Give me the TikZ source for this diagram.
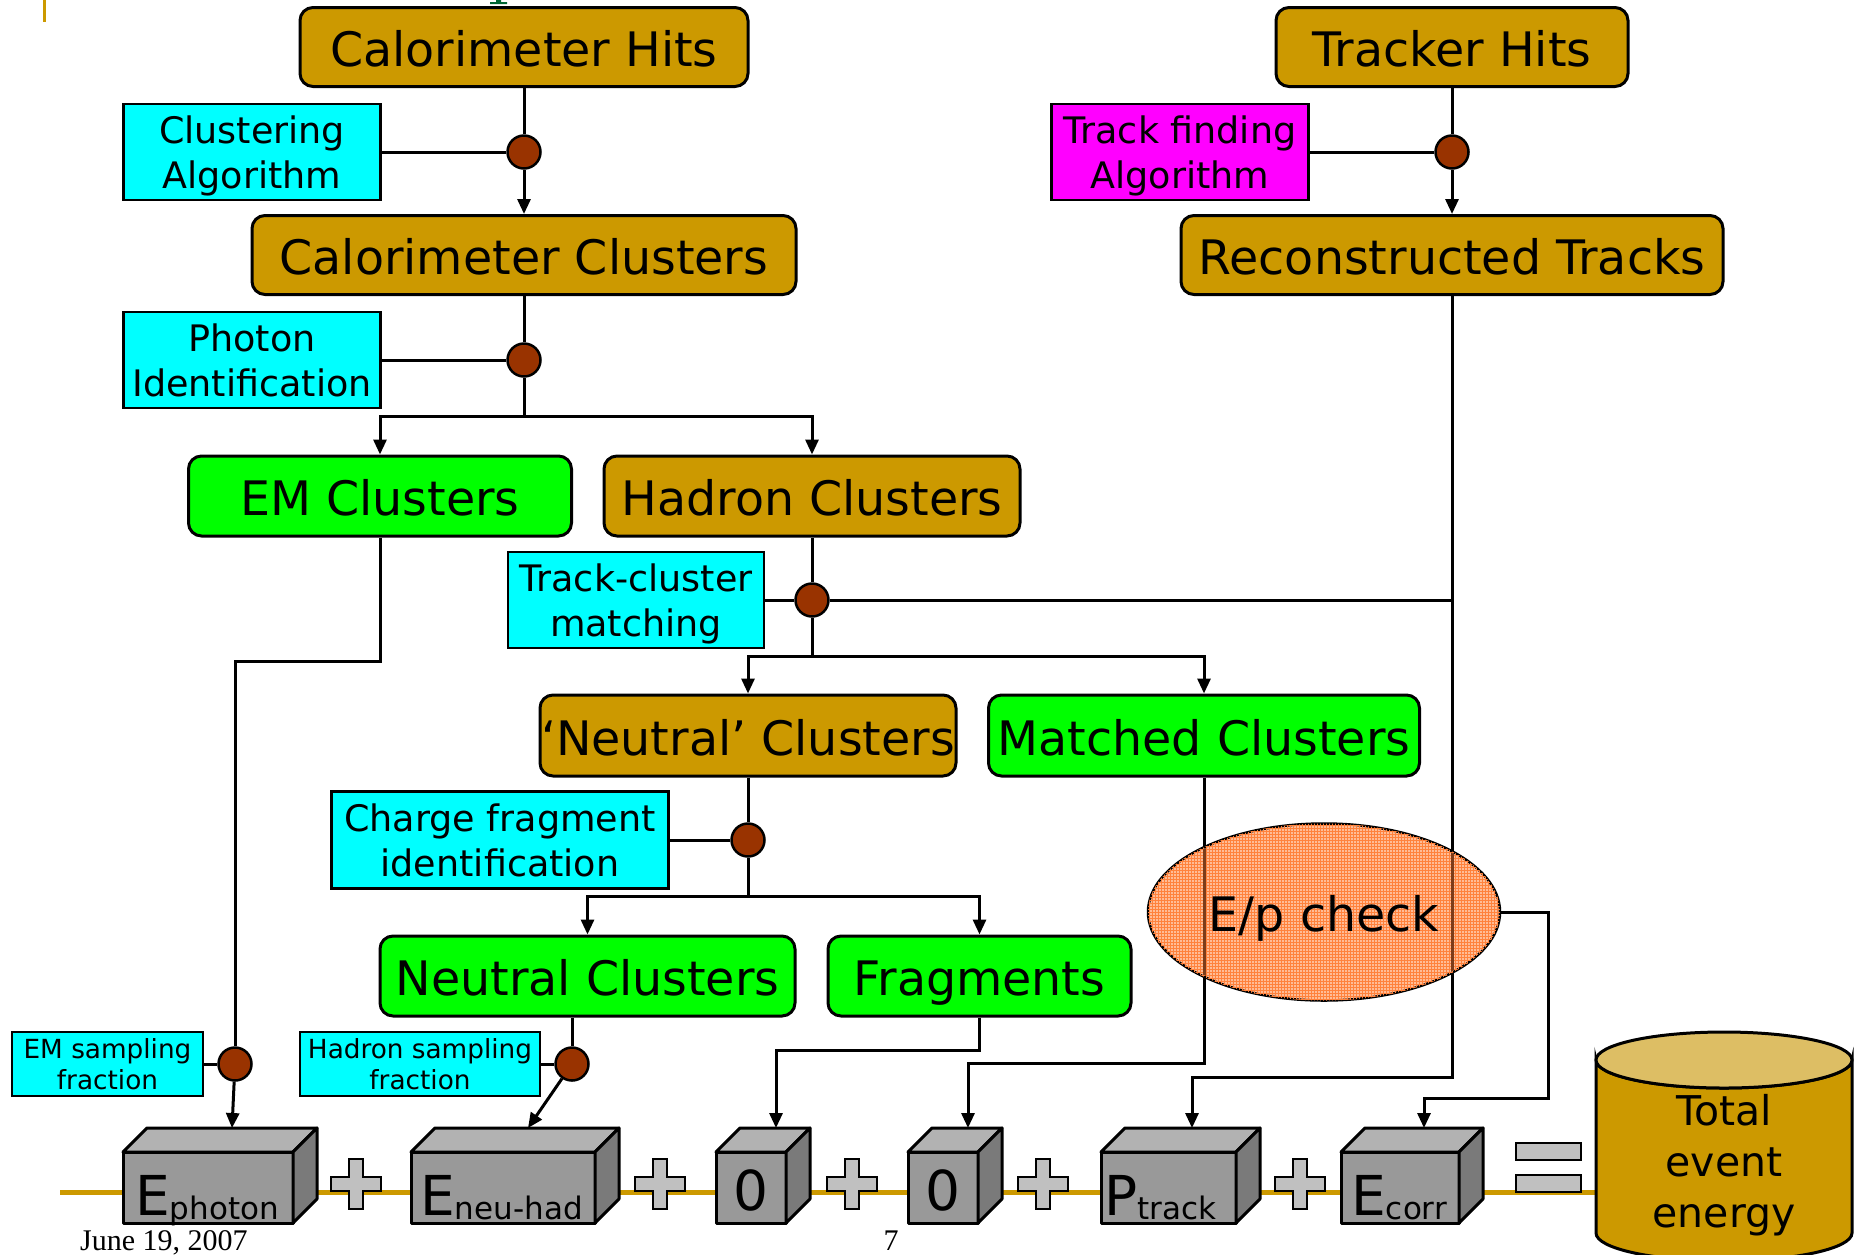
\documentclass[tikz,border=0pt]{standalone}
\usepackage{fontspec}
\setmainfont{DejaVu Sans}
\newfontfamily\footserif{Liberation Serif}
\usetikzlibrary{arrows.meta,shapes.geometric,calc,patterns}
\definecolor{gold}{RGB}{204,153,0}
\definecolor{lightgold}{RGB}{221,190,100}
\definecolor{cyanbox}{RGB}{0,255,255}
\definecolor{magbox}{RGB}{255,0,255}
\definecolor{greenbox}{RGB}{0,255,0}
\definecolor{dotbrown}{RGB}{153,51,0}
\definecolor{cubefront}{RGB}{153,153,153}
\definecolor{cubetop}{RGB}{178,178,178}
\definecolor{cubeside}{RGB}{122,122,122}
\definecolor{plusgray}{RGB}{192,192,192}
\definecolor{epfill}{RGB}{255,188,150}
\definecolor{epgrid}{RGB}{255,130,60}
\definecolor{epline}{RGB}{125,60,25}
\definecolor{titlegreen}{RGB}{0,102,51}
\newcommand\myBig{\fontsize{55}{55}\selectfont}
\newcommand\mySub{\fontsize{31}{31}\selectfont}
\newcommand\mycube[2]{%
  \draw[cubeline,fill=cubefront] (#1,1152) rectangle (#2,1223);
  \draw[cubeline,fill=cubetop] (#1,1152) -- (#1+24,1128) -- (#2+24,1128) -- (#2,1152) -- cycle;
  \draw[cubeline,fill=cubeside] (#2,1152) -- (#2+24,1128) -- (#2+24,1199) -- (#2,1223) -- cycle;}
\newcommand\myplus[1]{%
  \draw[plusst] (#1-7,1159) -- (#1+7,1159) -- (#1+7,1177) -- (#1+25,1177) -- (#1+25,1191) -- (#1+7,1191) -- (#1+7,1209) -- (#1-7,1209) -- (#1-7,1191) -- (#1-25,1191) -- (#1-25,1177) -- (#1-7,1177) -- cycle;}
\tikzset{
  goldbox/.style={draw, line width=3pt, rounded corners=13pt, fill=gold, inner sep=0pt, text height=44pt, text depth=5pt, font=\fontsize{47.5}{55}\selectfont},
  greenb/.style={goldbox, fill=greenbox},
  algbox/.style={draw, line width=2.5pt, fill=cyanbox, inner sep=0pt, align=center, text depth=0pt, font=\fontsize{36.5}{45}\selectfont},
  smallbox/.style={draw, line width=2.5pt, fill=cyanbox, inner sep=0pt, align=center, text depth=0pt, font=\fontsize{26.3}{31}\selectfont},
  jdot/.style={circle, draw, line width=2.5pt, fill=dotbrown, minimum size=33pt, inner sep=0pt},
  conn/.style={line width=3pt},
  arr/.style={line width=3pt, -{Triangle[length=15pt,width=13pt]}},
  cubeline/.style={line width=3pt, line join=round},
  plusst/.style={line width=2.5pt, fill=plusgray},
}
\begin{document}
\begin{tikzpicture}[x=1pt,y=-1pt]
\clip (0,0) rectangle (1854,1254);
\fill[white] (0,0) rectangle (1854,1254);
% page decorations
\draw[gold, line width=3pt] (44,0) -- (44,22);
\fill[titlegreen] (496,0) rectangle (501,3) (490,2) rectangle (507,4);
% nodes
\node[goldbox, minimum width=448pt, minimum height=79pt] (calhits) at (524,47) {Calorimeter Hits};
\node[goldbox, minimum width=352pt, minimum height=79pt] (trkhits) at (1452,47) {Tracker Hits};
\node[algbox, minimum width=257pt, minimum height=96pt] (clalg) at (252,152) {Clustering\\Algorithm};
\node[algbox, fill=magbox, minimum width=257pt, minimum height=96pt] (trkalg) at (1180,152) {Track finding\\Algorithm};
\node[jdot] (d1) at (524,152) {};
\node[jdot] (d2) at (1452,152) {};
\node[goldbox, minimum width=544pt, minimum height=79pt] (calclus) at (524,255) {Calorimeter Clusters};
\node[goldbox, minimum width=542pt, minimum height=79pt] (rectrk) at (1452,255) {Reconstructed Tracks};
\node[algbox, minimum width=257pt, minimum height=96pt] (photid) at (252,360) {Photon\\Identification};
\node[jdot] (d3) at (524,360) {};
\node[greenb, minimum width=383pt, minimum height=80pt] (emclus) at (380,496) {EM Clusters};
\node[goldbox, minimum width=416pt, minimum height=80pt] (hadclus) at (812,496) {Hadron Clusters};
\node[algbox, minimum width=256pt, minimum height=96pt] (tcm) at (636,600) {Track-cluster\\matching};
\node[jdot] (d4) at (812,600) {};
\node[goldbox, minimum width=416pt, minimum height=81pt] (neuq) at (748,735.5) {‘Neutral’ Clusters};
\node[greenb, minimum width=431pt, minimum height=81pt] (matched) at (1204,735.5) {Matched Clusters};
\node[algbox, minimum width=337pt, minimum height=97pt] (cfi) at (500,840) {Charge fragment\\identification};
\node[jdot] (d5) at (748,840) {};
\node[greenb, minimum width=415pt, minimum height=80pt] (neutral) at (587.5,976) {Neutral Clusters};
\node[greenb, minimum width=303pt, minimum height=80pt] (frag) at (979.5,976) {Fragments};
\node[smallbox, minimum width=191pt, minimum height=64pt] (emsf) at (107.5,1064) {EM sampling\\fraction};
\node[smallbox, minimum width=240pt, minimum height=64pt] (hadsf) at (420,1064) {Hadron sampling\\fraction};
\node[jdot] (d6) at (235,1064) {};
\node[jdot] (d7) at (572,1064) {};
% arrow targets on cube tops
\coordinate (ephTop) at (232,1128);
\coordinate (enhTop) at (528,1128);
\coordinate (zoneTop) at (776,1128);
\coordinate (ztwoTop) at (968,1128);
\coordinate (ptrTop) at (1192,1128);
\coordinate (ecoTop) at (1424,1128);
% connectors
\draw[conn] (calhits) -- (d1);
\draw[conn] (clalg) -- (d1);
\draw[arr] (d1) -- (calclus);
\draw[conn] (trkhits) -- (d2);
\draw[conn] (trkalg) -- (d2);
\draw[arr] (d2) -- (rectrk);
\draw[conn] (calclus) -- (d3);
\draw[conn] (photid) -- (d3);
\draw[arr] (d3) -- (d3 |- 0,416) -| (emclus);
\draw[arr] (d3 |- 0,416) -| (hadclus);
\draw[conn] (hadclus) -- (d4);
\draw[conn] (tcm) -- (d4);
\draw[conn] (d4) -- (d4 -| rectrk);
\draw[arr] (d4) -- (d4 |- 0,656) -| (neuq);
\draw[arr] (d4 |- 0,656) -| (matched);
\draw[conn] (neuq) -- (d5);
\draw[conn] (cfi) -- (d5);
\draw[arr] (d5) -- (d5 |- 0,896) -| (neutral);
\draw[arr] (d5 |- 0,896) -| (frag);
\draw[conn] (emclus) -- (emclus |- 0,661) -| (d6);
\draw[conn] (emsf) -- (d6);
\draw[arr] (d6) -- (ephTop);
\draw[conn] (d7 |- neutral.south) -- (d7);
\draw[conn] (hadsf) -- (d7);
\draw[arr] (d7) -- (enhTop);
\draw[arr] (frag) -- (frag |- 0,1050) -| (zoneTop);
\draw[arr] (matched) -- (matched |- 0,1063) -| (ztwoTop);
\draw[arr] (rectrk) -- (rectrk |- 0,1077) -| (ptrTop);
% E/p check
\node[ellipse, draw, line width=2.5pt, fill=epfill, postaction={pattern=grid, pattern color=epgrid}, minimum width=352pt, minimum height=177pt, inner sep=0pt, text height=44pt, text depth=5pt, font=\fontsize{47.5}{55}\selectfont] (ep) at (1324,912) {};
\begin{scope}
  \clip (ep.center) ellipse [x radius=174, y radius=87];
  \draw[line width=3pt, epline] (ep.north -| matched) -- (ep.south -| matched);
  \draw[line width=3pt, epline] (ep.north -| rectrk) -- (ep.south -| rectrk);
\end{scope}
\node[inner sep=0pt, text height=44pt, text depth=5pt, font=\fontsize{47.5}{55}\selectfont] (eptext) at (ep.center) {E/p check};
\draw[arr] (ep.east) -| (1548,1098) -| (ecoTop);
% baseline
\draw[gold, line width=5pt] (60,1192) -- (1600,1192);
% cubes
\mycube{123}{293}
\mycube{411}{595}
\mycube{716}{786}
\mycube{908}{978}
\mycube{1101}{1236}
\mycube{1341}{1459}
\node[anchor=base west, inner sep=0pt] (ephoton) at (135,1215) {\myBig E\mySub\raisebox{-4pt}{photon}};
\node[anchor=base west, inner sep=0pt] (eneuhad) at (420,1215) {\myBig E\mySub\raisebox{-4pt}{neu-had}};
\node[anchor=base, inner sep=0pt] (zone) at (751,1210) {\myBig 0};
\node[anchor=base, inner sep=0pt] (ztwo) at (943,1210) {\myBig 0};
\node[anchor=base west, inner sep=0pt] (ptrack) at (1104,1215) {\myBig P\mySub\raisebox{-4pt}{track}};
\node[anchor=base west, inner sep=0pt] (ecorr) at (1351,1215) {\myBig E\mySub\raisebox{-4pt}{corr}};
% plus and equals
\myplus{356}
\myplus{660}
\myplus{852}
\myplus{1043}
\myplus{1300}
\draw[plusst] (1516,1143) rectangle (1581,1160);
\draw[plusst] (1516,1175) rectangle (1581,1192);
% cylinder
\draw[line width=3pt, fill=gold] (1596,1060) -- (1596,1233) arc[start angle=180, end angle=0, x radius=128, y radius=28] -- (1852,1060) arc[start angle=0, end angle=180, x radius=128, y radius=28] -- cycle;
\draw[line width=3pt, fill=lightgold] (1724,1060) ellipse [x radius=128, y radius=28];
\node[align=center, inner sep=0pt, font=\fontsize{41}{51}\selectfont] (total) at (1724,1165) {Total\\event\\energy};
% footer
\node[anchor=base west, inner sep=0pt, font=\footserif\fontsize{30}{30}\selectfont] (date) at (80,1250) {June 19, 2007};
\node[anchor=base, inner sep=0pt, font=\footserif\fontsize{30}{30}\selectfont] (pagenum) at (891,1250) {7};
\end{tikzpicture}
\end{document}
